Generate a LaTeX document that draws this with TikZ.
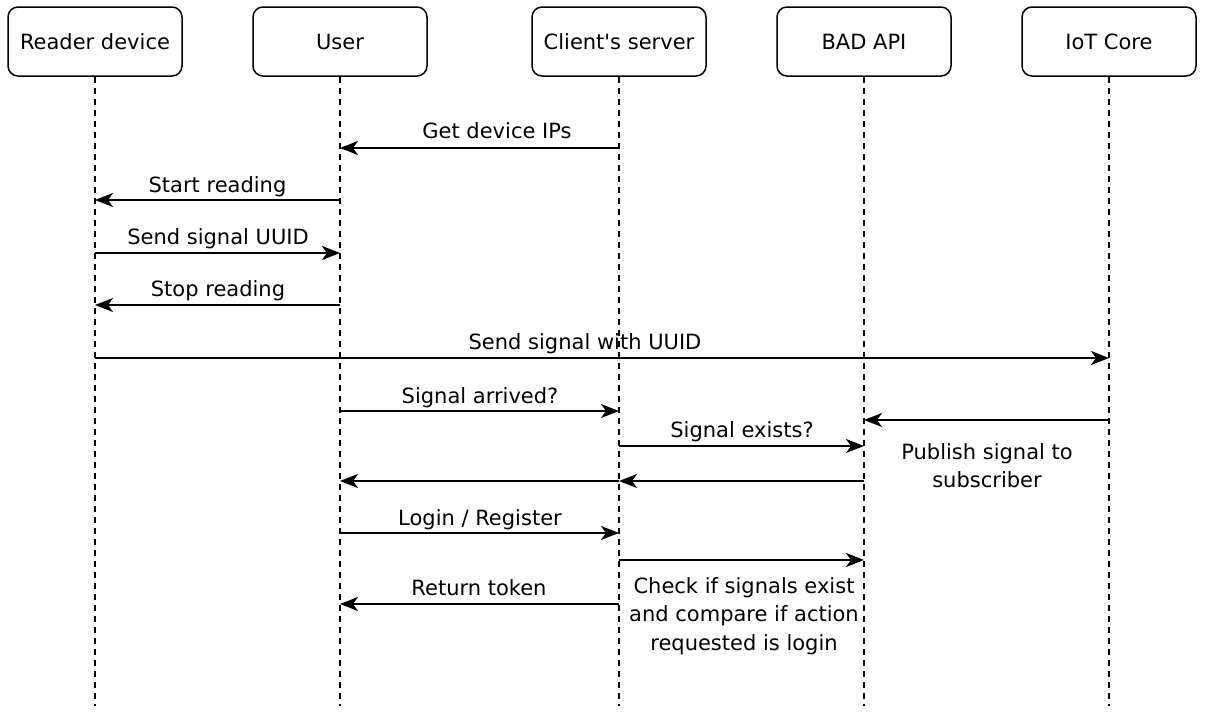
\documentclass[tikz,border=0pt]{standalone}
\usepackage{fontspec}
\setmainfont{DejaVu Sans}
\usetikzlibrary{arrows.meta}
\newcommand\fsz{\fontsize{21}{25}\selectfont}
\newcommand\straightquote{\XeTeXglyph\XeTeXcharglyph"0027\relax}
\begin{document}
\begin{tikzpicture}[x=1pt,y=-1pt,
  actor/.style={draw, line width=1.5pt, rounded corners=10pt, minimum width=174pt, minimum height=69pt, font=\fsz, inner sep=0pt},
  lifeline/.style={line width=1.2pt, dash pattern=on 6pt off 5pt},
  msg/.style={line width=2pt, -{Stealth[length=18pt,width=14pt,inset=5pt]}},
  lbl/.style={anchor=base, font=\fsz, inner sep=0pt},
]
\useasboundingbox (0,0) rectangle (1208,718);
\fill[white] (0,0) rectangle (1208,718);

% actors
\node[actor] (r) at (95,41.5)   {Reader device};
\node[actor] (u) at (340,41.5)  {User};
\node[actor] (c) at (619,41.5)  {Client\straightquote s server};
\node[actor] (b) at (864,41.5)  {BAD API};
\node[actor] (i) at (1109,41.5) {IoT Core};

% lifelines
\coordinate (rE) at (95,706);
\coordinate (uE) at (340,706);
\coordinate (cE) at (619,706);
\coordinate (bE) at (864,706);
\coordinate (iE) at (1109,706);
\draw[lifeline] (r) -- (rE);
\draw[lifeline] (u) -- (uE);
\draw[lifeline] (c) -- (cE);
\draw[lifeline] (b) -- (bE);
\draw[lifeline] (i) -- (iE);

% message points
\coordinate (c1) at (619,148);  \coordinate (u1) at (340,148);
\coordinate (u2) at (340,200);  \coordinate (r2) at (95,200);
\coordinate (r3) at (95,253);   \coordinate (u3) at (340,253);
\coordinate (u4) at (340,305);  \coordinate (r4) at (95,305);
\coordinate (r5) at (95,358);   \coordinate (i5) at (1109,358);
\coordinate (u6) at (340,411);  \coordinate (c6) at (619,411);
\coordinate (i7) at (1109,420); \coordinate (b7) at (864,420);
\coordinate (c8) at (619,446);  \coordinate (b8) at (864,446);
\coordinate (b9) at (864,481);  \coordinate (c9) at (619,481);  \coordinate (u9) at (340,481);
\coordinate (u10) at (340,533); \coordinate (c10) at (619,533);
\coordinate (c11) at (619,560); \coordinate (b11) at (864,560);
\coordinate (c12) at (619,604); \coordinate (u12) at (340,604);

% messages
\draw[msg] (c1) -- (u1);
\draw[msg] (u2) -- (r2);
\draw[msg] (r3) -- (u3);
\draw[msg] (u4) -- (r4);
\draw[msg] (r5) -- (i5);
\draw[msg] (u6) -- (c6);
\draw[msg] (i7) -- (b7);
\draw[msg] (c8) -- (b8);
\draw[msg] (b9) -- (c9);
\draw[msg] (c9) -- (u9);
\draw[msg] (u10) -- (c10);
\draw[msg] (c11) -- (b11);
\draw[msg] (c12) -- (u12);

% labels
\node[lbl] (l1) at (497,138) {Get device IPs};
\node[lbl] (l2) at (217.5,192) {Start reading};
\node[lbl] (l3) at (218,244.5) {Send signal UUID};
\node[lbl] (l4) at (218,296.5) {Stop reading};
\node[lbl] (l5) at (585,349.5) {Send signal with UUID};
\node[lbl] (l6) at (480,403) {Signal arrived?};
\node[lbl] (l8) at (742,437.5) {Signal exists?};
\node[lbl] (l10) at (480,525.5) {Login / Register};
\node[lbl] (l12) at (479,595.5) {Return token};
\node[lbl] (p1) at (987,459) {Publish signal to};
\node[lbl] (p2) at (987,487.5) {subscriber};
\node[lbl] (k1) at (744,593) {Check if signals exist};
\node[lbl] (k2) at (744,621.5) {and compare if action};
\node[lbl] (k3) at (744,650) {requested is login};
\end{tikzpicture}
\end{document}
